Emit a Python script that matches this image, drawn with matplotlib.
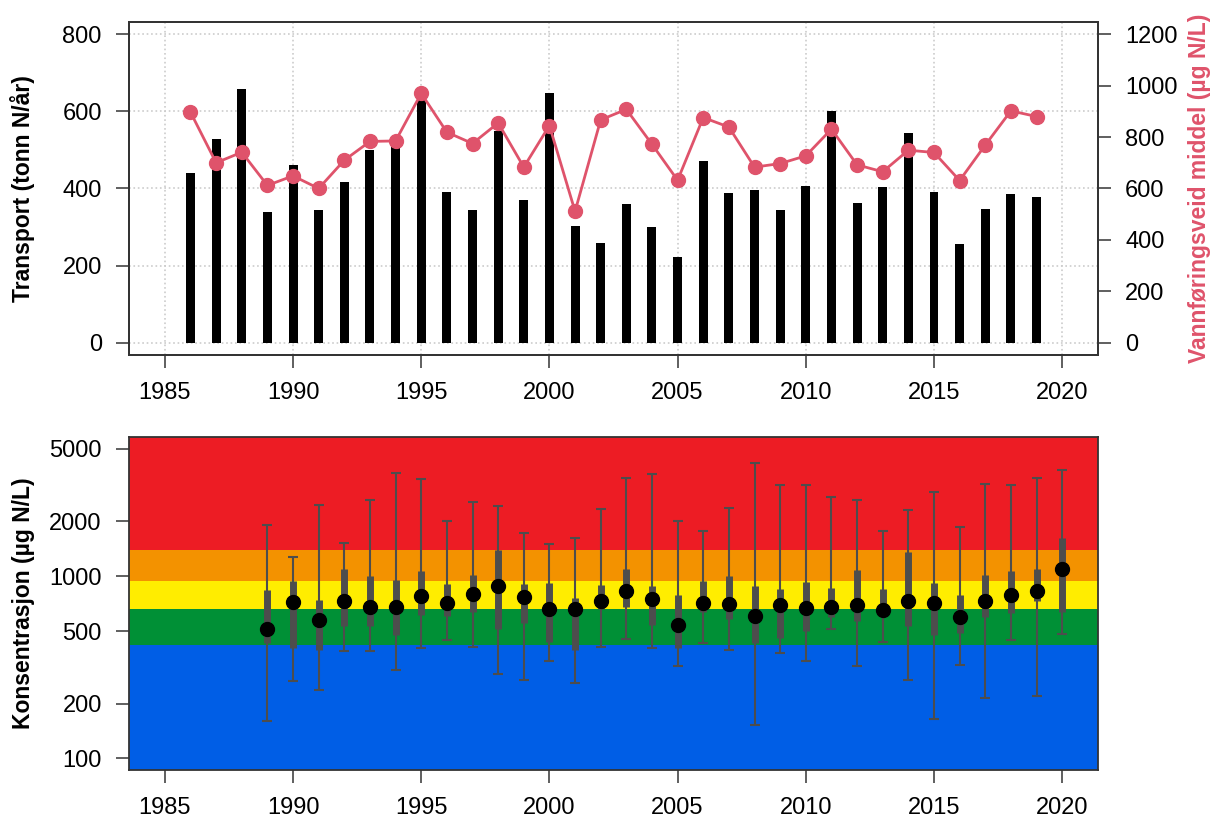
import matplotlib
matplotlib.use('Agg')
import matplotlib.pyplot as plt

plt.rcParams['font.family'] = ['Liberation Sans', 'DejaVu Sans']
plt.rcParams['font.size'] = 17

# Top panel: yearly transport and flow-weighted mean
years_t = list(range(1986, 2020))
transport = [439, 528, 657, 338, 462, 345, 416, 499, 517, 635,
             392, 343, 549, 369, 648, 302, 258, 359, 299, 223,
             470, 389, 396, 343, 407, 602, 362, 404, 545, 390,
             256, 346, 386, 377]
flow_mean = [897, 700, 741, 612, 649, 600, 710, 783, 785, 970,
             819, 775, 855, 683, 845, 511, 867, 908, 772, 632,
             876, 839, 683, 697, 727, 831, 692, 665, 749, 740,
             631, 769, 902, 880]

# Bottom panel: concentration summary per year
years_c = list(range(1989, 2021))
conc_med = [514, 720, 578, 732, 679, 679, 777, 714, 803, 885,
            767, 665, 665, 735, 831, 751, 541, 717, 702, 606,
            696, 670, 676, 694, 651, 735, 714, 598, 729, 786,
            834, 1093]
conc_q3 = [842, 940, 745, 1097, 1004, 959, 1074, 907, 1021, 1397,
           904, 916, 760, 900, 1101, 881, 786, 946, 1008, 881,
           849, 935, 866, 1084, 846, 1350, 923, 786, 1016, 1066,
           1097, 1624]
conc_q1 = [430, 406, 396, 536, 531, 476, 611, 603, 640, 514,
           555, 438, 396, 660, 676, 543, 404, 634, 583, 429,
           457, 501, 595, 566, 595, 533, 476, 488, 600, 627,
           729, 640]
conc_max = [1908, 1282, 2455, 1524, 2628, 3700, 3428, 2006, 2540, 2417,
            1730, 1500, 1624, 2324, 3442, 3646, 2014, 1775, 2364, 4157,
            3165, 3165, 2716, 2608, 1782, 2295, 2904, 1852, 3213, 3165,
            3442, 3811]
conc_min = [160, 267, 236, 389, 387, 306, 404, 445, 409, 290,
            268, 343, 261, 409, 453, 404, 321, 432, 392, 153,
            381, 344, 514, 323, 438, 271, 164, 326, 214, 445,
            221, 479]

# Class limits (µg N/L) and colours, low to high
class_limits = [420, 660, 940, 1400]
class_colors = ['#005ee6', '#009036', '#ffed00', '#f39200', '#ed1c24']

red = '#df536b'
gray = '#4d4d4d'
xticks = list(range(1985, 2021, 5))

fig = plt.figure(figsize=(12.12, 8.23), dpi=100)
ax1 = fig.add_axes([0.1064, 0.5687, 0.7996, 0.4046])
ax2 = fig.add_axes([0.1064, 0.0644, 0.7996, 0.4046])

# --- top panel ---
ax1.set_axisbelow(True)
ax1.grid(True, linestyle=':', color='#cccccc', linewidth=1.2)
ax1.bar(years_t, transport, width=0.35, color='black')
ax1.set_xlim(1983.6, 2021.4)
ax1.set_ylim(-32, 832)
ax1.set_xticks(xticks)
ax1.set_yticks([0, 200, 400, 600, 800])
ax1.set_ylabel('Transport (tonn N/år)', fontweight='bold', fontsize=16.5)
ax1.yaxis.set_label_coords(-0.097, 0.5)

ax1b = ax1.twinx()
ax1b.plot(years_t, flow_mean, color=red, linewidth=2, marker='o', markersize=10)
ax1b.set_ylim(-48, 1248)
ax1b.set_yticks(range(0, 1201, 200))
ax1b.set_ylabel('Vannføringsveid middel (µg N/L)', fontweight='bold', fontsize=16.5,
                color=red)
ax1b.yaxis.set_label_coords(1.093, 0.5)

# --- bottom panel ---
edges = [1] + class_limits + [1e5]
for lo, hi, c in zip(edges[:-1], edges[1:], class_colors):
    ax2.axhspan(lo, hi, color=c, linewidth=0, zorder=0)

err_lo = [m - lo for m, lo in zip(conc_med, conc_min)]
err_hi = [hi - m for m, hi in zip(conc_med, conc_max)]
ax2.errorbar(years_c, conc_med, yerr=[err_lo, err_hi], fmt='none', ecolor=gray,
             elinewidth=1.5, capsize=3.4, capthick=1.5, zorder=2)
ax2.vlines(years_c, conc_q1, conc_q3, color=gray, linewidth=5, zorder=3)
ax2.plot(years_c, conc_med, 'o', color='black', markersize=10, zorder=4)
ax2.set_yscale('log')
ax2.set_ylim(86.4, 5808)
ax2.set_xlim(1983.6, 2021.4)
ax2.set_xticks(xticks)
ax2.set_yticks([100, 200, 500, 1000, 2000, 5000])
ax2.set_yticklabels(['100', '200', '500', '1000', '2000', '5000'])
ax2.minorticks_off()
ax2.set_ylabel('Konsentrasjon (µg N/L)', fontweight='bold', fontsize=16.5)
ax2.yaxis.set_label_coords(-0.097, 0.5)

for ax in (ax1, ax1b, ax2):
    ax.tick_params(direction='out', length=9.5, width=1.2, color='#444444', pad=10,
                   labelsize=17)
    for s in ax.spines.values():
        s.set_color('#333333')
        s.set_linewidth(1.3)

fig.savefig('out.png', dpi=100)
